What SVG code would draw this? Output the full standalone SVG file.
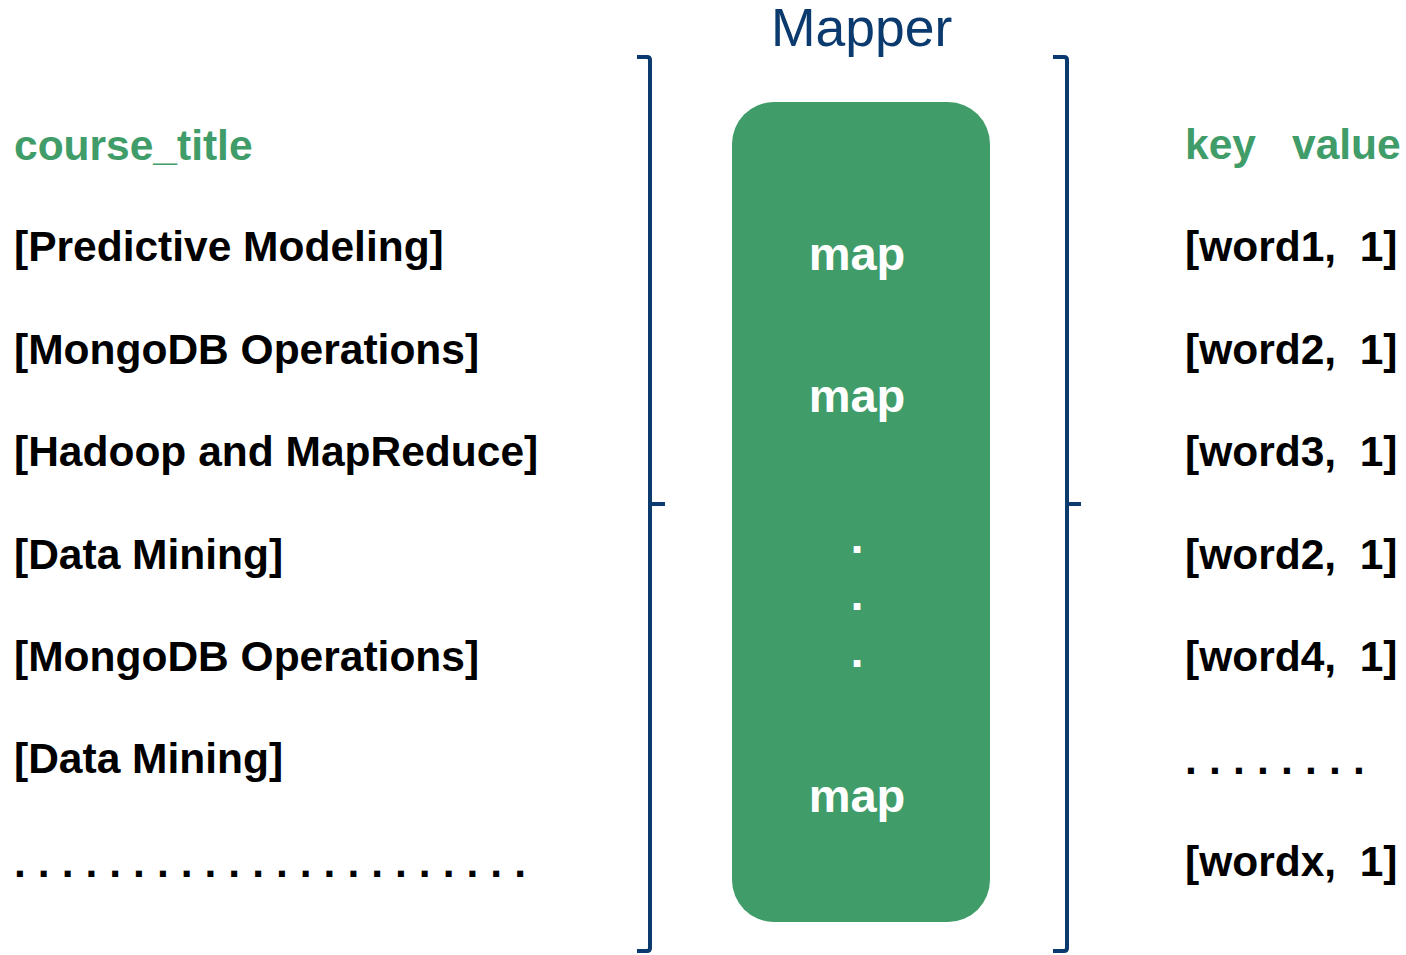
<svg xmlns="http://www.w3.org/2000/svg" width="1406" height="955" viewBox="0 0 1406 955">
  <style>
    .t { font-family: "Liberation Sans", Arial, sans-serif; font-weight: bold; font-size: 42.5px; fill: #000; white-space: pre; }
    .hdr { fill: #409c68; }
    .map { font-family: "Liberation Sans", Arial, sans-serif; font-weight: bold; font-size: 47px; fill: #fff; text-anchor: middle; }
    .title { font-family: "Liberation Sans", Arial, sans-serif; font-size: 53.5px; fill: #0b3a6e; }
    .brace { fill: none; stroke: #0b3a6e; stroke-width: 4; stroke-linejoin: round; }
  </style>

  <!-- input records -->
  <g id="input">
    <text class="t hdr" x="14" y="160">course_title</text>
    <text class="t" x="14" y="261">[Predictive Modeling]</text>
    <text class="t" x="14" y="364">[MongoDB Operations]</text>
    <text class="t" x="14" y="466">[Hadoop and MapReduce]</text>
    <text class="t" x="14" y="569">[Data Mining]</text>
    <text class="t" x="14" y="671">[MongoDB Operations]</text>
    <text class="t" x="14" y="773">[Data Mining]</text>
    <text class="t" x="14" y="877" letter-spacing="0.1">. . . . . . . . . . . . . . . . . . . . . .</text>
  </g>

  <!-- mapper stage -->
  <g id="mapper">
    <text class="title" x="771" y="46">Mapper</text>
    <rect x="732" y="102" width="258" height="820" rx="42" ry="42" fill="#409c68"/>
    <text class="map" x="857" y="270">map</text>
    <text class="map" x="857" y="412">map</text>
    <text class="map" x="857" y="553">.</text>
    <text class="map" x="857" y="610">.</text>
    <text class="map" x="857" y="667">.</text>
    <text class="map" x="857" y="812">map</text>
  </g>

  <!-- key/value output -->
  <g id="output">
    <text class="t hdr" x="1185" y="159">key</text>
    <text class="t hdr" x="1292" y="159">value</text>
    <text class="t" x="1185" y="261">[word1,  1]</text>
    <text class="t" x="1185" y="364">[word2,  1]</text>
    <text class="t" x="1185" y="466">[word3,  1]</text>
    <text class="t" x="1185" y="569">[word2,  1]</text>
    <text class="t" x="1185" y="671">[word4,  1]</text>
    <text class="t" x="1185" y="774" letter-spacing="0.2">. . . . . . . .</text>
    <text class="t" x="1185" y="876">[wordx,  1]</text>
  </g>

  <!-- braces -->
  <g id="connectors">
    <path class="brace" d="M637,57 H647 Q650,57 650,60 V948 Q650,951 647,951 H637 M650,504 H665"/>
    <path class="brace" d="M1053,57 H1064 Q1067,57 1067,60 V948 Q1067,951 1064,951 H1053 M1067,504 H1081"/>
  </g>
</svg>
